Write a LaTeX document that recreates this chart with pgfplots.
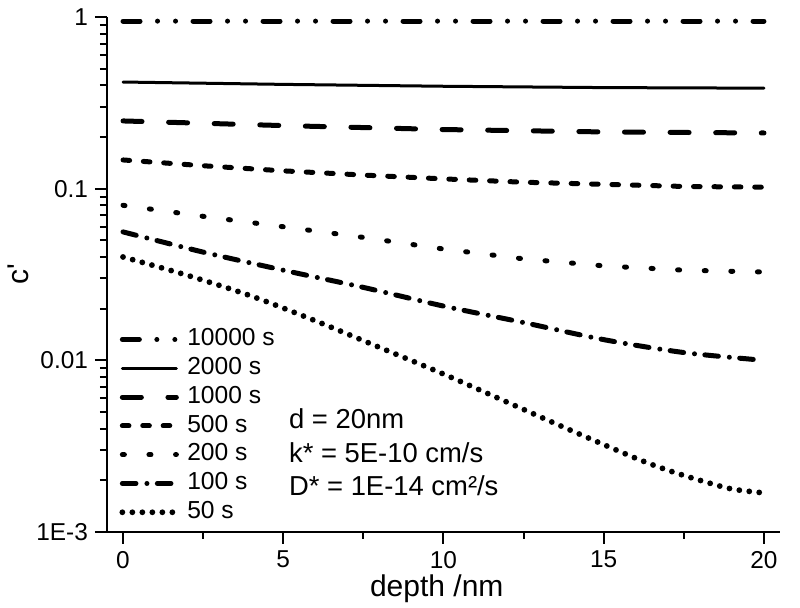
\documentclass[border=0pt]{standalone}
\usepackage{fontspec}
\setmainfont{Liberation Sans}
\newfontfamily\plainfont{Liberation Sans}[Ligatures=TeXOff]
\usepackage{pgfplots}
\pgfplotsset{compat=1.18}

\pgfplotsset{
  legend image code/.code={\draw[#1] (0pt,0pt) -- (27pt,0pt);},
  curve/.style={black, line width=2.5pt, line cap=round, no marks},
}

\begin{document}
\begin{tikzpicture}
\begin{axis}[
  scale only axis, width=336.5pt, height=257.5pt,
  ymode=log, xmin=-0.5, xmax=20.5, ymin=1e-3, ymax=1,
  axis lines=left, axis line style={-, line width=1pt},
  tick align=outside, major tick length=6pt, minor tick length=3.5pt,
  every tick/.style={black, line width=1pt},
  xtick={0,5,10,15,20}, minor x tick num=1,
  ytick={0.001,0.01,0.1,1}, yticklabels={1E-3,0.01,0.1,1},
  /pgf/number format/assume math mode=true,
  ticklabel style={font=\fontsize{12.2}{14}\selectfont},
  label style={font=\fontsize{15}{18}\selectfont},
  xlabel={depth /nm}, ylabel={c{\plainfont'}},
  x label style={at={(axis description cs:0.49,-0.11)}, anchor=center},
  y label style={at={(axis description cs:-0.132,0.5)}, anchor=center},
  legend cell align=left,
  legend style={at={(axis description cs:0.009,0.408)}, anchor=north west,
    draw=none, fill=none, font=\fontsize{12.3}{14}\selectfont,
    nodes={inner sep=1pt, text height=8.7pt, text depth=2.5pt},
    row sep=1.2pt, column sep=3pt},
]
% 10000 s
\addplot[curve, dash pattern=on 8.5pt off 8.75pt on 0pt off 9pt on 0pt off 8.75pt]
  coordinates {(0,0.946) (10,0.946) (20,0.946)};
% 2000 s
\addplot[black, line width=1.5pt, line cap=round, no marks]
  coordinates {(0,0.418) (5,0.405) (10,0.395) (15,0.388) (20,0.385)};
% 1000 s
\addplot[curve, dash pattern=on 9.5pt off 13.3pt]
  coordinates {(0,0.248) (5,0.233) (10,0.221) (15,0.214) (20,0.211)};
% 500 s
\addplot[curve, dash pattern=on 3.3pt off 6.9pt]
  coordinates {(0,0.147) (2.5,0.136) (5,0.127) (7.5,0.120) (10,0.114)
               (12.5,0.109) (15,0.106) (17.5,0.103) (20,0.102)};
% 200 s
\addplot[curve, dash pattern=on 1pt off 12.3pt]
  coordinates {(0,0.080) (2.5,0.069) (5,0.060) (7.5,0.052) (10,0.0445)
               (12.5,0.039) (15,0.0355) (17.5,0.0335) (20,0.0327)};
% 100 s
\addplot[curve, smooth, dash pattern=on 6.8pt off 5.5pt on 0pt off 5.2pt]
  coordinates {(0,0.056) (2.5,0.0427) (5,0.0335) (7.5,0.0266) (10,0.0207)
               (12.5,0.0166) (15,0.0132) (17.5,0.0111) (20,0.0100)};
% 50 s
\addplot[curve, line width=2.9pt, smooth, dash pattern=on 0pt off 5pt]
  coordinates {(0,0.0400) (2,0.0313) (4,0.0237) (6,0.0170) (8,0.0119)
               (10,0.00832) (12,0.00569) (14,0.00389) (16,0.00269)
               (17,0.00229) (18,0.00200) (19,0.00178) (20,0.00169)};
\legend{10000 s, 2000 s, 1000 s, 500 s, 200 s, 100 s, 50 s}
\begin{scope}[every node/.style={anchor=base west, inner sep=0pt,
      font=\fontsize{13.7}{16}\selectfont}]
\node at (axis description cs:0.270,0.200) {d = 20nm};
\node at (axis description cs:0.270,0.135) {k* = 5E-10 cm/s};
\node at (axis description cs:0.270,0.070) {D* = 1E-14 cm²/s};
\end{scope}
\end{axis}
\pgfresetboundingbox
\path ([shift={(-53.5pt,-38pt)}]current axis.south west) rectangle ++(400pt,304pt);
\end{tikzpicture}
\end{document}
